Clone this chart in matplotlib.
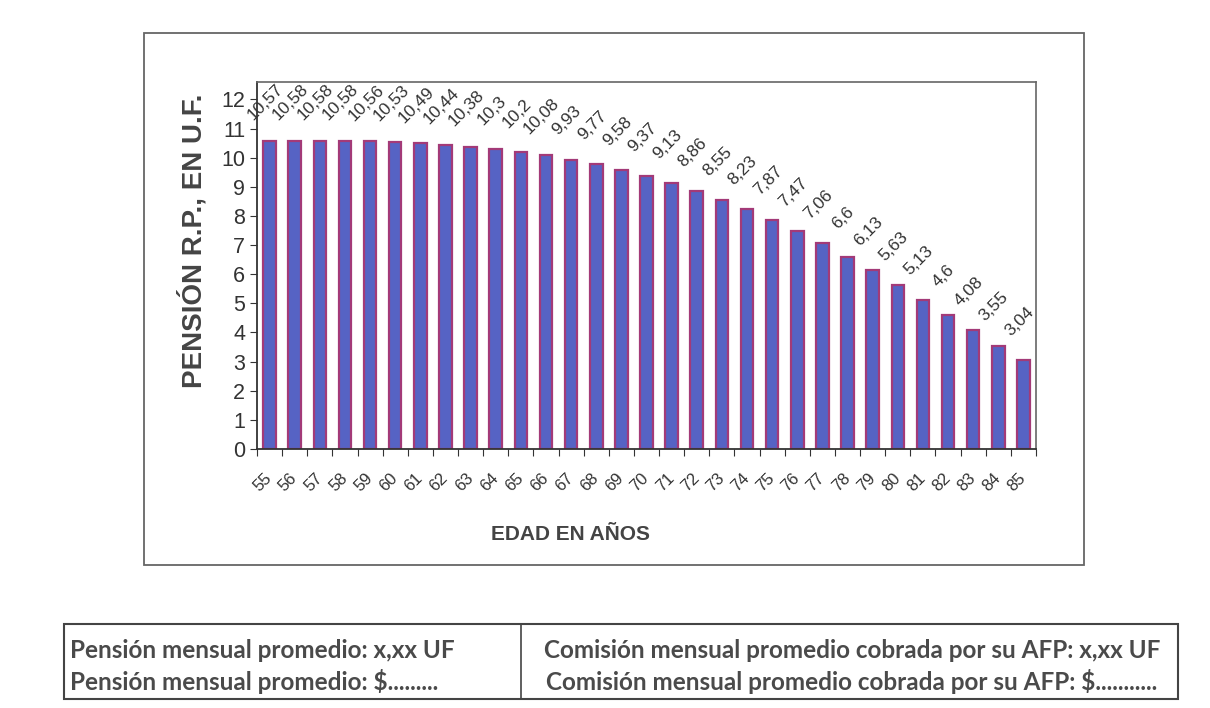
import matplotlib
matplotlib.use("Agg")
import matplotlib.pyplot as plt
from matplotlib.patches import Rectangle
from matplotlib.lines import Line2D

# edades y pension promedio (U.F.)
edades = list(range(55, 86))
pension = [10.57, 10.58, 10.58, 10.58, 10.56, 10.53, 10.49, 10.44, 10.38, 10.3,
           10.2, 10.08, 9.93, 9.77, 9.58, 9.37, 9.13, 8.86, 8.55, 8.23,
           7.87, 7.47, 7.06, 6.6, 6.13, 5.63, 5.13, 4.6, 4.08, 3.55, 3.04]
etiquetas = [f"{v:g}".replace(".", ",") for v in pension]

fila_izq = ["Pensión mensual promedio: x,xx UF", "Pensión mensual promedio: $........."]
fila_der = ["Comisión mensual promedio cobrada por su AFP: x,xx UF",
            "Comisión mensual promedio cobrada por su AFP: $..........."]

plt.rcParams['font.family'] = ['Liberation Sans', 'DejaVu Sans']
W, H = 1210, 708
fig = plt.figure(figsize=(W / 100, H / 100), dpi=100)

def px(x0, y0, x1, y1):
    # convert pixel box (top-left origin) to figure fraction
    return [x0 / W, 1 - y1 / H, (x1 - x0) / W, (y1 - y0) / H]

ax = fig.add_axes(px(257, 82, 1036, 449))
x = list(range(len(edades)))
ax.bar(x, pension, width=0.5, color='#5663c4', edgecolor='#a33a78', linewidth=1.6)

for xi, v, lab in zip(x, pension, etiquetas):
    ax.annotate(lab, (xi, v), xytext=(-3, 28), textcoords='offset points',
                ha='center', va='center', rotation=45, fontsize=12.5, color='#333333')

ax.set_xlim(-0.5, len(edades) - 0.5)
ax.set_ylim(0, 12.6)
ax.set_yticks(range(0, 13))
ax.tick_params(axis='y', labelsize=15.5, colors='#333333', length=5, direction='out')

# tick marks between categories, labels at the bars
ax.set_xticks([i - 0.5 for i in range(len(edades) + 1)])
ax.set_xticklabels([])
ax.tick_params(axis='x', which='major', length=5, color='#333333')
ax.set_xticks(x, minor=True)
ax.set_xticklabels([str(e) for e in edades], minor=True, rotation=45,
                   ha='right', va='center', rotation_mode='anchor', fontsize=12, color='#333333')
ax.tick_params(axis='x', which='minor', length=0, pad=19)

for s in ['left', 'bottom']:
    ax.spines[s].set_color('#333333')
    ax.spines[s].set_linewidth(1.3)
for s in ['top', 'right']:
    ax.spines[s].set_color('#666666')
    ax.spines[s].set_linewidth(1.2)

ax.set_ylabel('PENSIÓN R.P., EN U.F.', fontsize=20, fontweight='bold', color='#444444')
ax.yaxis.set_label_coords(-0.064, 0.567)
ax.set_xlabel('EDAD EN AÑOS', fontsize=15, fontweight='bold', color='#444444')
ax.xaxis.set_label_coords(0.403, -0.207)

# marco exterior del grafico
fig.patches.append(Rectangle((144 / W, 1 - 565 / H), (1084 - 144) / W, (565 - 33) / H,
                             transform=fig.transFigure, fill=False, edgecolor='#666666', linewidth=1.3))

# cuadro inferior
fig.patches.append(Rectangle((64 / W, 1 - 699 / H), (1178 - 64) / W, (699 - 624) / H,
                             transform=fig.transFigure, fill=False, edgecolor='#444444', linewidth=1.5))
fig.lines.append(Line2D([521 / W, 521 / W], [1 - 624 / H, 1 - 699 / H],
                        transform=fig.transFigure, color='#444444', linewidth=1.2))
for i, (a, b) in enumerate(zip(fila_izq, fila_der)):
    y = 1 - (650 + i * 32) / H
    fig.text(70 / W, y, a, fontsize=17.5, fontweight='bold', family='Lato',
             color='#4a4a4a', ha='left', va='center')
    fig.text(852 / W, y, b, fontsize=17.5, fontweight='bold', family='Lato',
             color='#4a4a4a', ha='center', va='center')

fig.savefig('out.png', dpi=100, facecolor='white')
